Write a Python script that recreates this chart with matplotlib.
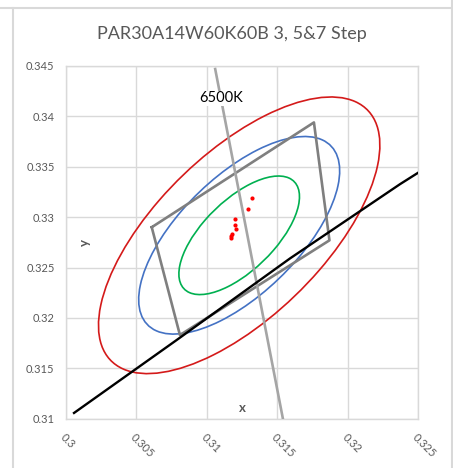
#!/usr/bin/env python3
import matplotlib
matplotlib.use('Agg')
import matplotlib.pyplot as plt
from matplotlib.patches import Ellipse
from matplotlib.lines import Line2D

plt.rcParams['font.family'] = ['Lato', 'DejaVu Sans']

# measured chromaticity points
pt_x = [0.3132, 0.3129, 0.3120, 0.3120, 0.3121, 0.3118, 0.3117, 0.3117]
pt_y = [0.3319, 0.3308, 0.3298, 0.3292, 0.3288, 0.3283, 0.3281, 0.3279]

# 6500K MacAdam ellipses (3, 5, 7 step)
ell_center = (0.3123, 0.3282)
ell_a = [0.00669, 0.01115, 0.01561]
ell_b = [0.00285, 0.00475, 0.00665]
ell_angle = 58.23
ell_colors = ['#00B050', '#4472C4', '#D41A1A']

# quadrangle
quad_x = [0.3061, 0.3176, 0.3187, 0.3081, 0.3061]
quad_y = [0.3290, 0.3394, 0.3277, 0.3183, 0.3290]

# black locus line
loc_x = [0.30059, 0.30787, 0.31591, 0.32371, 0.325]
loc_y = [0.31057, 0.31781, 0.32591, 0.33328, 0.33442]

# 6500K isotemperature line
iso_x = [0.3106, 0.3154]
iso_y = [0.3447, 0.3100]

xticks = [0.3, 0.305, 0.31, 0.315, 0.32, 0.325]
yticks = [0.31, 0.315, 0.32, 0.325, 0.33, 0.335, 0.34, 0.345]


def main():
    fig = plt.figure(figsize=(4.53, 4.68), dpi=100)
    ax = fig.add_axes([65.7 / 453, 1 - 418.7 / 468, (418.3 - 65.7) / 453, (418.7 - 66) / 468])

    grid_c = '#D9D9D9'
    for a, b, c in zip(ell_a, ell_b, ell_colors):
        ax.add_patch(Ellipse(ell_center, 2 * a, 2 * b, angle=ell_angle,
                             fill=False, edgecolor=c, lw=1.2, zorder=3))

    ax.plot(quad_x, quad_y, color='#7F7F7F', lw=1.9, zorder=4)
    ax.plot(iso_x, iso_y, color='#A5A5A5', lw=1.9, zorder=4)
    ax.plot(loc_x, loc_y, color='black', lw=1.7, zorder=5)
    ax.plot(pt_x, pt_y, 'o', color='#FF0000', ms=3, mec='none', zorder=6)

    ax.set_xlim(0.3, 0.325)
    ax.set_ylim(0.31, 0.345)
    ax.set_xticks(xticks)
    ax.set_yticks(yticks)
    ax.set_xticklabels(['0.3', '0.305', '0.31', '0.315', '0.32', '0.325'],
                       rotation=-45, ha='left', va='top', rotation_mode='anchor')
    ax.set_yticklabels(['0.31', '0.315', '0.32', '0.325', '0.33', '0.335', '0.34', '0.345'])
    ax.tick_params(length=0, labelsize=8, labelcolor='#595959')
    ax.tick_params(axis='x', pad=9)
    ax.tick_params(axis='y', pad=8)
    ax.grid(True, color=grid_c, lw=1.0)
    ax.set_axisbelow(True)
    for s in ax.spines.values():
        s.set_color(grid_c)
        s.set_linewidth(1.0)

    ax.text(0.3110, 0.3418, '6500K', fontsize=10.5, color='black', ha='center', va='center',
            zorder=7, bbox=dict(facecolor='white', edgecolor='none', pad=0.5))
    fig.text(242 / 453, 1 - 408 / 468, 'x', fontsize=9.5, fontweight='bold', color='#595959',
             ha='center', va='center')
    fig.text(85 / 453, 1 - 242 / 468, 'y', fontsize=9.5, fontweight='bold', color='#595959',
             ha='center', va='center', rotation=90)
    fig.text(232 / 453, 1 - 34 / 468, 'PAR30A14W60K60B 3, 5&7 Step', fontsize=13,
             color='#595959', ha='center', va='center')

    # chart area border
    fig.add_artist(Line2D([0, 452 / 453], [1 - 8 / 468] * 2, color=grid_c, lw=1.5))
    fig.add_artist(Line2D([12.7 / 453] * 2, [0, 1 - 8 / 468], color=grid_c, lw=1.5))
    fig.add_artist(Line2D([452 / 453] * 2, [0, 1], color=grid_c, lw=1.5))

    plt.savefig('out.png', dpi=100)


if __name__ == "__main__":
    main()
